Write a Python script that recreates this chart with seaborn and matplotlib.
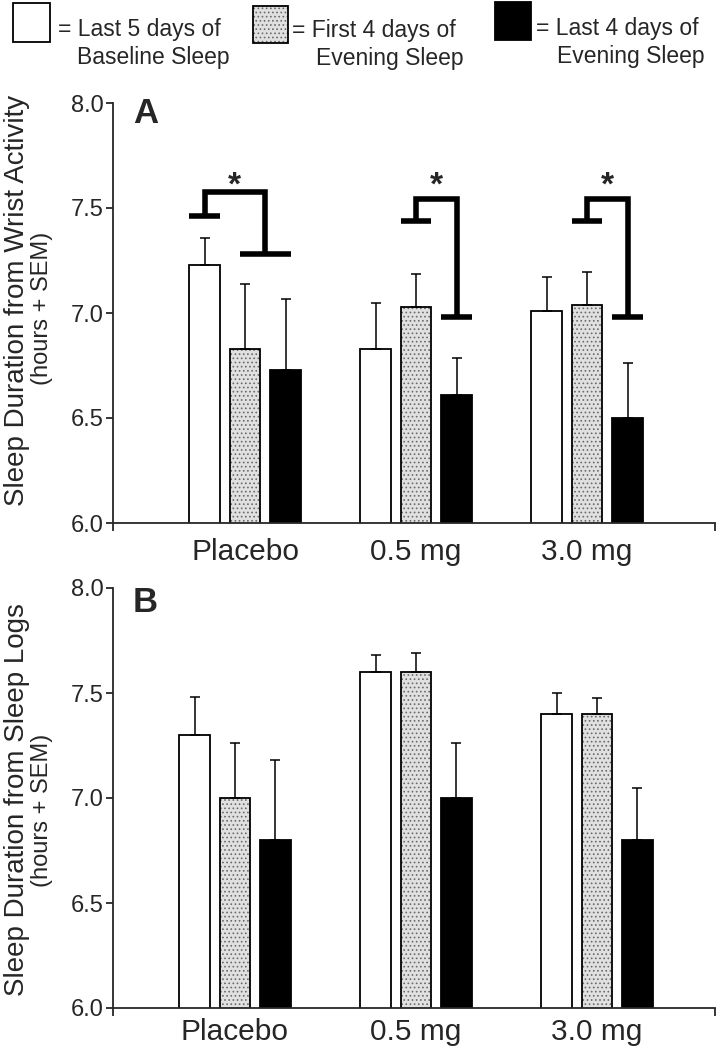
import numpy as np
import pandas as pd
import matplotlib
matplotlib.use("Agg")
import matplotlib.pyplot as plt
import seaborn as sns
from matplotlib.patches import Rectangle
from matplotlib.container import BarContainer

# ---------------- data ----------------
doses = ["Placebo", "0.5 mg", "3.0 mg"]
conditions = ["Last 5 days of Baseline Sleep",
              "First 4 days of Evening Sleep",
              "Last 4 days of Evening Sleep"]

# Panel A: sleep duration from wrist activity (hours), + SEM
wrist_baseline = [7.23, 6.83, 7.01]
wrist_first4 = [6.83, 7.03, 7.04]
wrist_last4 = [6.73, 6.61, 6.50]
wrist_sem_baseline = [0.125, 0.22, 0.16]
wrist_sem_first4 = [0.31, 0.155, 0.155]
wrist_sem_last4 = [0.335, 0.175, 0.26]

# Panel B: sleep duration from sleep logs (hours), + SEM
logs_baseline = [7.30, 7.60, 7.40]
logs_first4 = [7.00, 7.60, 7.40]
logs_last4 = [6.80, 7.00, 6.80]
logs_sem_baseline = [0.18, 0.08, 0.10]
logs_sem_first4 = [0.26, 0.09, 0.075]
logs_sem_last4 = [0.38, 0.26, 0.25]

y_ticks = [6.0, 6.5, 7.0, 7.5, 8.0]

# significance brackets in panel A (one per dose group)
sig_left_bars = [[0], [1], [1]]
sig_right_bars = [[1, 2], [2], [2]]
sig_left_y = [7.46, 7.44, 7.44]
sig_top_y = [7.575, 7.545, 7.545]
sig_right_y = [7.28, 6.98, 6.98]
sig_star_y = [7.565, 7.565, 7.565]

bar_colors = ["white", "#e0e0e0", "black"]


def long_df(vals, sems):
    rows = []
    for ci, c in enumerate(conditions):
        for di, d in enumerate(doses):
            rows.append({"dose": d, "condition": c,
                         "value": vals[ci][di], "sem": sems[ci][di]})
    return pd.DataFrame(rows)


dfA = long_df([wrist_baseline, wrist_first4, wrist_last4],
              [wrist_sem_baseline, wrist_sem_first4, wrist_sem_last4])
dfB = long_df([logs_baseline, logs_first4, logs_last4],
              [logs_sem_baseline, logs_sem_first4, logs_sem_last4])

# ---------------- style ----------------
sns.set_style("ticks")
plt.rcParams["font.family"] = ["Liberation Sans", "DejaVu Sans"]
plt.rcParams["hatch.linewidth"] = 0.7

W, H = 720, 1050
fig = plt.figure(figsize=(W / 100, H / 100), dpi=100)
axA = fig.add_axes([113 / W, 1 - 523 / H, 602 / W, 420 / H])
axB = fig.add_axes([113 / W, 1 - 1008 / H, 602 / W, 420 / H])

HATCH_GRAY = (0.42, 0.42, 0.42, 1.0)


def draw_panel(ax, df, width, gap, xlim, letter, letter_y, label_pad):
    sns.barplot(data=df, x="dose", y="value", hue="condition",
                order=doses, hue_order=conditions, palette=bar_colors,
                saturation=1, edgecolor="black", linewidth=1.3,
                width=width, gap=gap, errorbar=None, legend=False, ax=ax)
    bar_conts = [c for c in ax.containers if isinstance(c, BarContainer)]
    centers = []
    for ci, cont in enumerate(bar_conts):
        xs = [b.get_x() + b.get_width() / 2 for b in cont]
        hs = [b.get_height() + b.get_y() for b in cont]
        centers.append(xs)
        if ci == 1:
            for b in cont:
                b.set_hatch("....")
                b._hatch_color = HATCH_GRAY
        sems = df[df["condition"] == conditions[ci]].set_index("dose").loc[doses, "sem"].values
        ax.errorbar(xs, hs, yerr=[np.zeros(len(sems)), sems], fmt="none",
                    ecolor="black", elinewidth=1.1, capsize=3.6,
                    capthick=1.1, zorder=1)
    ax.set_ylim(6.0, 8.0)
    ax.set_xlim(*xlim)
    ax.set_yticks(y_ticks)
    ax.set_yticklabels([f"{t:.1f}" for t in y_ticks], fontsize=17)
    ax.set_xticks(range(len(doses)))
    ax.set_xticklabels(doses, fontsize=21.5)
    ax.tick_params(axis="x", which="major", length=0, pad=label_pad)
    ax.set_xticks(list(xlim), minor=True)
    ax.tick_params(axis="x", which="minor", length=6, width=1.3, direction="out")
    ax.tick_params(axis="y", length=5, width=1.3, pad=2, direction="out")
    for s in ["top", "right"]:
        ax.spines[s].set_visible(False)
    for s in ["left", "bottom"]:
        ax.spines[s].set_linewidth(1.3)
    ax.set_xlabel("")
    ax.set_ylabel("")
    ax.text(0.033, letter_y, letter, transform=ax.transAxes, fontsize=25,
            fontweight="bold", ha="left", va="top")
    return centers, bar_conts[0][0].get_width()


xlimA = (-0.772, 2.748)
xlimB = (-0.674, 2.652)
centersA, bar_w = draw_panel(axA, dfA, 0.71, 0.24, xlimA, "A", 1.014, 11)
centersB, _ = draw_panel(axB, dfB, 0.669, 0.233, xlimB, "B", 1.005, 7)

# significance brackets (panel A)
for g in range(len(doses)):
    lx = np.mean([centersA[i][g] for i in sig_left_bars[g]])
    rxs = [centersA[i][g] for i in sig_right_bars[g]]
    rx = np.mean(rxs)
    r_half = bar_w / 2 + (max(rxs) - min(rxs)) / 4
    kw = dict(color="black", lw=4.0, solid_capstyle="butt",
              solid_joinstyle="miter", clip_on=False)
    axA.plot([lx - bar_w / 2, lx + bar_w / 2], [sig_left_y[g]] * 2, **kw)
    axA.plot([rx - r_half, rx + r_half], [sig_right_y[g]] * 2, **kw)
    axA.plot([lx, lx, rx, rx],
             [sig_left_y[g], sig_top_y[g], sig_top_y[g], sig_right_y[g]], **kw)
    axA.text((lx + rx) / 2, sig_star_y[g], "*", ha="center", va="baseline",
             fontsize=24, fontweight="bold")

# y-axis labels
fig.text(17 / W, 1 - 300 / H, "Sleep Duration from Wrist Activity",
         rotation=90, ha="center", va="center", fontsize=20)
fig.text(42 / W, 1 - 308 / H, "(hours + SEM)",
         rotation=90, ha="center", va="center", fontsize=17)
fig.text(17 / W, 1 - 800 / H, "Sleep Duration from Sleep Logs",
         rotation=90, ha="center", va="center", fontsize=20)
fig.text(42 / W, 1 - 810 / H, "(hours + SEM)",
         rotation=90, ha="center", va="center", fontsize=17)

# legend at top
def fig_rect(x0, y0, x1, y1, **kw):
    r = Rectangle((x0 / W, 1 - y1 / H), (x1 - x0) / W, (y1 - y0) / H,
                  transform=fig.transFigure, **kw)
    fig.add_artist(r)
    return r

fig_rect(13, 3, 50, 42, facecolor="white", edgecolor="black", lw=1.3)
r2 = fig_rect(253, 6, 288, 43, facecolor="#e0e0e0", edgecolor="black",
              lw=1.3, hatch="....")
r2._hatch_color = HATCH_GRAY
fig_rect(495, 2, 531, 40, facecolor="black", edgecolor="black", lw=1.3)

leg_lines = [
    (58, 36, "= Last 5 days of"), (77, 64, "Baseline Sleep"),
    (292, 37, "= First 4 days of"), (316, 65, "Evening Sleep"),
    (536, 35, "= Last 4 days of"), (557, 63, "Evening Sleep"),
]
for x, y, t in leg_lines:
    fig.text(x / W, 1 - y / H, t, ha="left", va="baseline", fontsize=16.5)

fig.savefig("out.png", dpi=100)
